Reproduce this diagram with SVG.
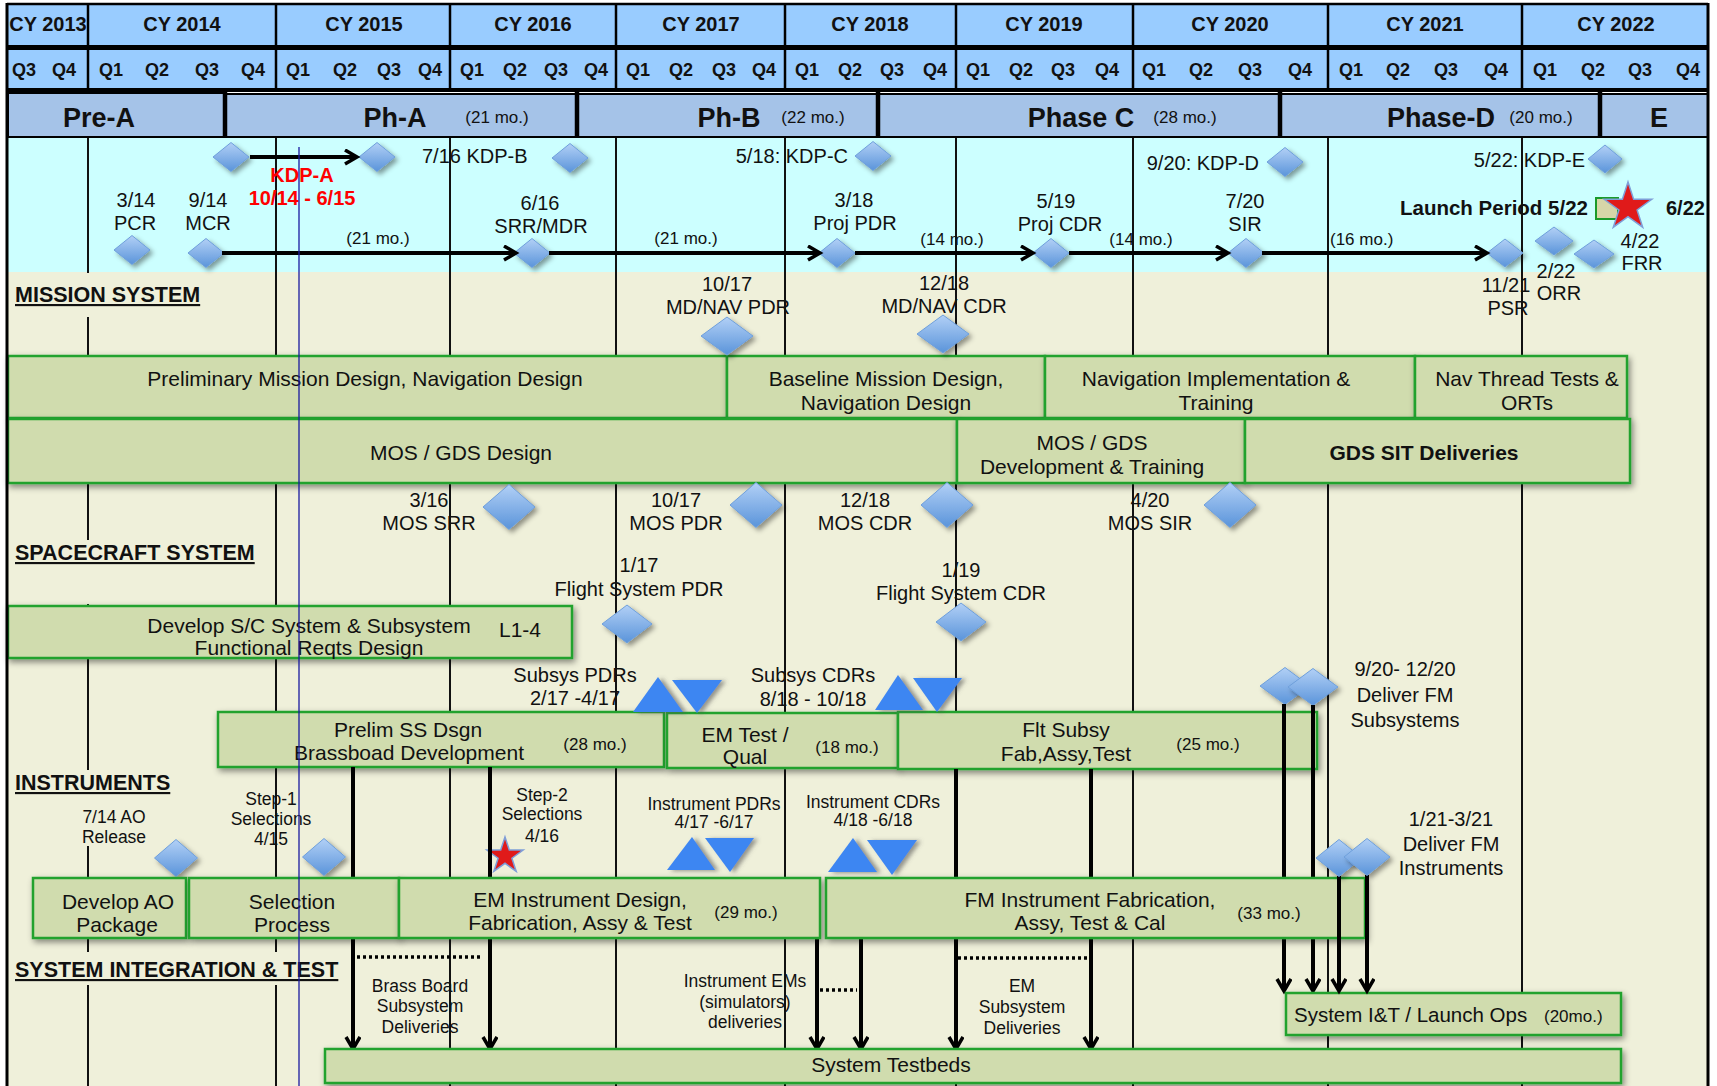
<svg xmlns="http://www.w3.org/2000/svg" width="1717" height="1086" viewBox="0 0 1717 1086">
<defs>
<style>
text{font-family:"Liberation Sans",Arial,sans-serif;fill:#111}
.hdr{font-size:20px;font-weight:bold;text-anchor:middle}
.q{font-size:18px;font-weight:bold;text-anchor:middle}
.ph{font-size:27px;font-weight:bold;text-anchor:middle}
.phm{font-size:17px;text-anchor:middle}
.l{font-size:20px;text-anchor:middle}
.le{font-size:20px;text-anchor:end}
.ls{font-size:20px;text-anchor:start}
.mo{font-size:17px;text-anchor:middle}
.sm{font-size:17.5px;text-anchor:middle}
.bt{font-size:21px;text-anchor:middle}
.bb{font-size:21px;font-weight:bold;text-anchor:middle}
.red{font-size:20px;font-weight:bold;text-anchor:middle;fill:#FF0000}
.sec{font-size:21.5px;font-weight:bold;text-decoration:underline}
.box{fill:#D0DCAE;stroke:#22A22F;stroke-width:2.5;filter:url(#sh)}
.pbox{fill:#A5C3E8;stroke:#000;stroke-width:2}
.dia{fill:url(#dg);stroke:#6E9FDB;stroke-width:1;filter:url(#dsh)}
.tri{fill:#3E86F2;filter:url(#tsh)}
.grid{stroke:#111;stroke-width:2}
.arr{stroke:#000;stroke-width:4;fill:none;marker-end:url(#ah)}
.ln{stroke:#000;stroke-width:4;fill:none}
.dot{stroke:#000;stroke-width:3.5;stroke-dasharray:3 3;fill:none}
</style>
<linearGradient id="dg" x1="0" y1="0" x2="0" y2="1"><stop offset="0" stop-color="#B2D0F6"/><stop offset="1" stop-color="#5A94DA"/></linearGradient>
<filter id="sh" x="-5%" y="-20%" width="110%" height="150%"><feDropShadow dx="2" dy="3" stdDeviation="3" flood-color="#000" flood-opacity="0.45"/></filter>
<filter id="dsh" x="-30%" y="-30%" width="170%" height="170%"><feDropShadow dx="3" dy="3" stdDeviation="2.5" flood-color="#000" flood-opacity="0.4"/></filter>
<filter id="tsh" x="-30%" y="-30%" width="170%" height="170%"><feDropShadow dx="4" dy="1" stdDeviation="2" flood-color="#555" flood-opacity="0.6"/></filter>
<marker id="ah" markerUnits="userSpaceOnUse" markerWidth="20" markerHeight="20" refX="14" refY="8" orient="auto"><path d="M2,1 L14,8 L2,15" fill="none" stroke="#000" stroke-width="3.5"/></marker>
</defs>

<rect x="0" y="0" width="1717" height="1086" fill="#fff"/>
<rect x="7" y="137" width="1701" height="135" fill="#CCFFFF"/>
<rect x="7" y="272" width="1701" height="814" fill="#EFF0DA"/>

<g id="gridlines" class="grid">
<line x1="88" y1="137" x2="88" y2="1086"/>
<line x1="276" y1="137" x2="276" y2="1086"/>
<line x1="450" y1="137" x2="450" y2="1086"/>
<line x1="616" y1="137" x2="616" y2="1086"/>
<line x1="785" y1="137" x2="785" y2="1086"/>
<line x1="956" y1="137" x2="956" y2="1086"/>
<line x1="1133" y1="137" x2="1133" y2="1086"/>
<line x1="1328" y1="137" x2="1328" y2="1086"/>
<line x1="1522" y1="137" x2="1522" y2="1086"/>
</g>

<g id="section-headings">
<rect x="10" y="273" width="196" height="44" fill="#EFF0DA"/>
<rect x="10" y="540" width="252" height="64" fill="#EFF0DA"/>
<rect x="10" y="770" width="166" height="76" fill="#EFF0DA"/>
<rect x="10" y="952" width="340" height="33" fill="#EFF0DA"/>
<text class="sec" x="15" y="302">MISSION SYSTEM</text>
<text class="sec" x="15" y="560">SPACECRAFT SYSTEM</text>
<text class="sec" x="15" y="790">INSTRUMENTS</text>
<text class="sec" x="15" y="977">SYSTEM INTEGRATION &amp; TEST</text>
</g>

<g id="header">
<rect x="7" y="4" width="1701" height="41" fill="#99CCFF"/>
<rect x="7" y="45" width="1701" height="5" fill="#000"/>
<rect x="7" y="50" width="1701" height="38" fill="#99CCFF"/>
<rect x="7" y="88" width="1701" height="4" fill="#000"/>
<g stroke="#000" stroke-width="2.5">
<line x1="88" y1="4" x2="88" y2="92"/><line x1="276" y1="4" x2="276" y2="92"/><line x1="450" y1="4" x2="450" y2="92"/><line x1="616" y1="4" x2="616" y2="92"/><line x1="785" y1="4" x2="785" y2="92"/><line x1="956" y1="4" x2="956" y2="92"/><line x1="1133" y1="4" x2="1133" y2="92"/><line x1="1328" y1="4" x2="1328" y2="92"/><line x1="1522" y1="4" x2="1522" y2="92"/>
<line x1="7" y1="4" x2="1708" y2="4"/>
</g>
<text class="hdr" x="48" y="31">CY 2013</text>
<text class="hdr" x="182" y="31">CY 2014</text>
<text class="hdr" x="364" y="31">CY 2015</text>
<text class="hdr" x="533" y="31">CY 2016</text>
<text class="hdr" x="701" y="31">CY 2017</text>
<text class="hdr" x="870" y="31">CY 2018</text>
<text class="hdr" x="1044" y="31">CY 2019</text>
<text class="hdr" x="1230" y="31">CY 2020</text>
<text class="hdr" x="1425" y="31">CY 2021</text>
<text class="hdr" x="1616" y="31">CY 2022</text>
<g class="q">
<text x="24" y="76">Q3</text><text x="64" y="76">Q4</text>
<text x="111" y="76">Q1</text><text x="157" y="76">Q2</text><text x="207" y="76">Q3</text><text x="253" y="76">Q4</text>
<text x="298" y="76">Q1</text><text x="345" y="76">Q2</text><text x="389" y="76">Q3</text><text x="430" y="76">Q4</text>
<text x="472" y="76">Q1</text><text x="515" y="76">Q2</text><text x="556" y="76">Q3</text><text x="596" y="76">Q4</text>
<text x="638" y="76">Q1</text><text x="681" y="76">Q2</text><text x="724" y="76">Q3</text><text x="764" y="76">Q4</text>
<text x="807" y="76">Q1</text><text x="850" y="76">Q2</text><text x="892" y="76">Q3</text><text x="935" y="76">Q4</text>
<text x="978" y="76">Q1</text><text x="1021" y="76">Q2</text><text x="1063" y="76">Q3</text><text x="1107" y="76">Q4</text>
<text x="1154" y="76">Q1</text><text x="1201" y="76">Q2</text><text x="1250" y="76">Q3</text><text x="1300" y="76">Q4</text>
<text x="1351" y="76">Q1</text><text x="1398" y="76">Q2</text><text x="1446" y="76">Q3</text><text x="1496" y="76">Q4</text>
<text x="1545" y="76">Q1</text><text x="1593" y="76">Q2</text><text x="1640" y="76">Q3</text><text x="1688" y="76">Q4</text>
</g>
<g id="phases">
<rect class="pbox" x="8" y="93" width="217" height="44"/>
<rect class="pbox" x="225" y="94" width="352" height="43"/>
<rect class="pbox" x="577" y="94" width="301" height="43"/>
<rect class="pbox" x="878" y="94" width="402" height="43"/>
<rect class="pbox" x="1280" y="94" width="320" height="43"/>
<rect class="pbox" x="1600" y="94" width="108" height="43"/>
<g stroke="#000" stroke-width="4.5">
<line x1="225" y1="92" x2="225" y2="138"/><line x1="577" y1="92" x2="577" y2="138"/><line x1="878" y1="92" x2="878" y2="138"/><line x1="1280" y1="92" x2="1280" y2="138"/><line x1="1600" y1="92" x2="1600" y2="138"/>
</g>
<line x1="7" y1="137" x2="1708" y2="137" stroke="#000" stroke-width="2"/>
<text class="ph" x="99" y="127">Pre-A</text>
<text class="ph" x="395" y="127">Ph-A</text><text class="phm" x="497" y="123">(21 mo.)</text>
<text class="ph" x="729" y="127">Ph-B</text><text class="phm" x="813" y="123">(22 mo.)</text>
<text class="ph" x="1081" y="127">Phase C</text><text class="phm" x="1185" y="123">(28 mo.)</text>
<text class="ph" x="1441" y="127">Phase-D</text><text class="phm" x="1541" y="123">(20 mo.)</text>
<text class="ph" x="1659" y="127">E</text>
</g>
</g>

<g id="boxes">
<g id="n-prelim-mission"><rect class="box" x="8" y="356" width="719" height="62"/><text class="bt" x="365" y="386">Preliminary Mission Design, Navigation Design</text></g>
<g id="n-baseline-mission"><rect class="box" x="727" y="356" width="318" height="62"/><text class="bt" x="886" y="386">Baseline Mission Design,</text><text class="bt" x="886" y="410">Navigation Design</text></g>
<g id="n-nav-impl"><rect class="box" x="1045" y="356" width="370" height="62"/><text class="bt" x="1216" y="386">Navigation Implementation &amp;</text><text class="bt" x="1216" y="410">Training</text></g>
<g id="n-nav-thread"><rect class="box" x="1415" y="356" width="212" height="62"/><text class="bt" x="1527" y="386">Nav Thread Tests &amp;</text><text class="bt" x="1527" y="410">ORTs</text></g>
<g id="n-mos-design"><rect class="box" x="8" y="419" width="949" height="64"/><text class="bt" x="461" y="460">MOS / GDS Design</text></g>
<g id="n-mos-dev"><rect class="box" x="957" y="419" width="288" height="64"/><text class="bt" x="1092" y="450">MOS / GDS</text><text class="bt" x="1092" y="474">Development &amp; Training</text></g>
<g id="n-gds-sit"><rect class="box" x="1245" y="419" width="385" height="64"/><text class="bb" x="1424" y="460">GDS SIT Deliveries</text></g>
<g id="n-sc-reqts"><rect class="box" x="8" y="606" width="564" height="52"/><text class="bt" x="309" y="633">Develop S/C System &amp; Subsystem</text><text class="bt" x="309" y="655">Functional Reqts Design</text><text class="bt" x="520" y="637">L1-4</text></g>
<g id="n-prelim-ss"><rect class="box" x="218" y="712" width="446" height="55"/><text class="bt" x="408" y="737">Prelim SS Dsgn</text><text class="bt" x="409" y="760">Brassboad Development</text><text class="mo" x="595" y="750">(28 mo.)</text></g>
<g id="n-em-test"><rect class="box" x="667" y="713" width="231" height="55"/><text class="bt" x="745" y="742">EM Test /</text><text class="bt" x="745" y="764">Qual</text><text class="mo" x="847" y="753">(18 mo.)</text></g>
<g id="n-flt-subsy"><rect class="box" x="898" y="712" width="419" height="57"/><text class="bt" x="1066" y="737">Flt Subsy</text><text class="bt" x="1066" y="761">Fab,Assy,Test</text><text class="mo" x="1208" y="750">(25 mo.)</text></g>
</g>

<g id="milestones">
<g id="m-kdpa-start"><polygon class="dia" points="213,157 231,142.5 249,157 231,171.5"/></g>
<g id="m-kdpa-end"><polygon class="dia" points="359,157 377,142.5 395,157 377,171.5"/></g>
<g id="m-kdpb"><polygon class="dia" points="552,158 570,143.5 588,158 570,172.5"/><text class="ls" x="422" y="163">7/16 KDP-B</text></g>
<g id="m-kdpc"><polygon class="dia" points="855,156 873,141.5 891,156 873,170.5"/><text class="le" x="848" y="163">5/18: KDP-C</text></g>
<g id="m-kdpd"><polygon class="dia" points="1267,162 1285,147.5 1303,162 1285,176.5"/><text class="le" x="1259" y="170">9/20: KDP-D</text></g>
<g id="m-kdpe"><polygon class="dia" points="1588,159 1605,145 1622,159 1605,173"/><text class="le" x="1585" y="167">5/22: KDP-E</text></g>
<g id="m-kdpa-label"><text class="red" x="302" y="182">KDP-A</text><text class="red" x="302" y="205">10/14 - 6/15</text></g>
<g id="m-pcr"><polygon class="dia" points="114,250 132,235.5 150,250 132,264.5"/><text class="l" x="136" y="207">3/14</text><text class="l" x="135" y="230">PCR</text></g>
<g id="m-mcr"><polygon class="dia" points="188,253 206,238.5 224,253 206,267.5"/><text class="l" x="208" y="207">9/14</text><text class="l" x="208" y="230">MCR</text></g>
<g id="m-srr"><polygon class="dia" points="514,253 532,238.5 550,253 532,267.5"/><text class="l" x="540" y="210">6/16</text><text class="l" x="541" y="233">SRR/MDR</text></g>
<g id="m-ppdr"><polygon class="dia" points="819,253 837,238.5 855,253 837,267.5"/><text class="l" x="854" y="207">3/18</text><text class="l" x="855" y="230">Proj PDR</text></g>
<g id="m-pcdr"><polygon class="dia" points="1033,253 1051,238.5 1069,253 1051,267.5"/><text class="l" x="1056" y="208">5/19</text><text class="l" x="1060" y="231">Proj CDR</text></g>
<g id="m-sir"><polygon class="dia" points="1228,253 1246,238.5 1264,253 1246,267.5"/><text class="l" x="1245" y="208">7/20</text><text class="l" x="1245" y="231">SIR</text></g>
<g id="m-psr"><polygon class="dia" points="1487,253 1505,239 1523,253 1505,267"/><text class="l" x="1506" y="292">11/21</text><text class="l" x="1508" y="315">PSR</text></g>
<g id="m-orr"><polygon class="dia" points="1535,241 1554,227 1573,241 1554,255"/><text class="l" x="1556" y="278">2/22</text><text class="l" x="1559" y="300">ORR</text></g>
<g id="m-frr"><polygon class="dia" points="1574,254 1594,240 1614,254 1594,268"/><text class="l" x="1640" y="248">4/22</text><text class="l" x="1642" y="270">FRR</text></g>
<g id="m-launch"><text x="1400" y="215" style="font-size:20.5px;font-weight:bold">Launch Period 5/22</text><rect x="1596" y="198" width="22" height="21" fill="#D6D6A8" stroke="#1A9A2A" stroke-width="2"/><polygon points="1628,182 1633.6,199.3 1651.8,199.3 1637.1,210 1642.7,227.2 1628,216.6 1613.3,227.2 1618.9,210 1604.2,199.3 1622.4,199.3" fill="#E01A1A" stroke="#7E9ED8" stroke-width="1.5"/><text x="1666" y="215" style="font-size:20px;font-weight:bold">6/22</text></g>
<g id="m-mdnav-pdr"><polygon class="dia" points="701,336 727,317 753,336 727,355"/><text class="l" x="727" y="291">10/17</text><text class="l" x="728" y="314">MD/NAV PDR</text></g>
<g id="m-mdnav-cdr"><polygon class="dia" points="917,334 943,315 969,334 943,353"/><text class="l" x="944" y="290">12/18</text><text class="l" x="944" y="313">MD/NAV CDR</text></g>
<g id="m-mos-srr"><polygon class="dia" points="483,507 509,484.5 535,507 509,529.5"/><text class="l" x="429" y="507">3/16</text><text class="l" x="429" y="530">MOS SRR</text></g>
<g id="m-mos-pdr"><polygon class="dia" points="730,505 756,482.5 782,505 756,527.5"/><text class="l" x="676" y="507">10/17</text><text class="l" x="676" y="530">MOS PDR</text></g>
<g id="m-mos-cdr"><polygon class="dia" points="921,505 947,482.5 973,505 947,527.5"/><text class="l" x="865" y="507">12/18</text><text class="l" x="865" y="530">MOS CDR</text></g>
<g id="m-mos-sir"><polygon class="dia" points="1204,505 1230,482.5 1256,505 1230,527.5"/><text class="l" x="1150" y="507">4/20</text><text class="l" x="1150" y="530">MOS SIR</text></g>
<g id="m-fs-pdr"><polygon class="dia" points="602,624 627,605 652,624 627,643"/><text class="l" x="639" y="572">1/17</text><text class="l" x="639" y="596">Flight System PDR</text></g>
<g id="m-fs-cdr"><polygon class="dia" points="936,622 961,603 986,622 961,641"/><text class="l" x="961" y="577">1/19</text><text class="l" x="961" y="600">Flight System CDR</text></g>
<g id="m-subsys-pdr"><polygon class="tri" points="633,712 658,677 683,712"/><polygon class="tri" points="672,680 722,680 697,713"/><text class="l" x="575" y="682">Subsys PDRs</text><text class="l" x="575" y="705">2/17 -4/17</text></g>
<g id="m-subsys-cdr"><polygon class="tri" points="875,710 898,675 923,710"/><polygon class="tri" points="913,678 962,678 937,712"/><text class="l" x="813" y="682">Subsys CDRs</text><text class="l" x="813" y="706">8/18 - 10/18</text></g>
<g id="m-fm-subsys"><polygon class="dia" points="1260,686 1285,667.5 1310,686 1285,704.5"/><polygon class="dia" points="1288,687 1313,668.5 1338,687 1313,705.5"/><text class="l" x="1405" y="676">9/20- 12/20</text><text class="l" x="1405" y="702">Deliver FM</text><text class="l" x="1405" y="727">Subsystems</text></g>
<g id="m-ao"><polygon class="dia" points="154.5,858 176,839.5 197.5,858 176,876.5"/><text class="sm" x="114" y="823">7/14 AO</text><text class="sm" x="114" y="843">Release</text></g>
<g id="m-step1"><polygon class="dia" points="302.5,857 324,838.5 345.5,857 324,875.5"/><text class="sm" x="271" y="805">Step-1</text><text class="sm" x="271" y="825">Selections</text><text class="sm" x="271" y="845">4/15</text></g>
<g id="m-step2"><polygon points="505,837 509.3,850.1 523.1,850.1 511.9,858.2 516.2,871.4 505,863.3 493.8,871.4 498.1,858.2 486.9,850.1 500.7,850.1" fill="#E01A1A" stroke="#7E9ED8" stroke-width="1.5"/><text class="sm" x="542" y="801">Step-2</text><text class="sm" x="542" y="820">Selections</text><text class="sm" x="542" y="842">4/16</text></g>
<g id="m-instr-pdr"><polygon class="tri" points="667,870 692,837 715,870"/><polygon class="tri" points="705,838 754,838 730,872"/><text class="sm" x="714" y="810">Instrument PDRs</text><text class="sm" x="714" y="828">4/17 -6/17</text></g>
<g id="m-instr-cdr"><polygon class="tri" points="828,872 853,838 877,872"/><polygon class="tri" points="867,840 917,840 892,875"/><text class="sm" x="873" y="808">Instrument CDRs</text><text class="sm" x="873" y="826">4/18 -6/18</text></g>
</g>

<g id="connectors">
<line class="arr" x1="250" y1="157" x2="357" y2="157"/>
<line class="arr" x1="222" y1="253" x2="516" y2="253"/>
<line class="arr" x1="549" y1="253" x2="820" y2="253"/>
<line class="arr" x1="855" y1="253" x2="1033" y2="253"/>
<line class="arr" x1="1069" y1="253" x2="1228" y2="253"/>
<line class="arr" x1="1262" y1="253" x2="1487" y2="253"/>
<line class="ln" x1="353" y1="767" x2="353" y2="878"/>
<line class="arr" x1="353" y1="938" x2="353" y2="1049"/>
<line class="ln" x1="490" y1="767" x2="490" y2="878"/>
<line class="arr" x1="490" y1="938" x2="490" y2="1049"/>
<line class="arr" x1="817" y1="938" x2="817" y2="1049"/>
<line class="arr" x1="861" y1="938" x2="861" y2="1049"/>
<line class="ln" x1="956" y1="769" x2="956" y2="878"/>
<line class="arr" x1="956" y1="938" x2="956" y2="1049"/>
<line class="ln" x1="1091" y1="769" x2="1091" y2="878"/>
<line class="arr" x1="1091" y1="938" x2="1091" y2="1049"/>
<line class="ln" x1="1284" y1="704" x2="1284" y2="878"/>
<line class="arr" x1="1284" y1="938" x2="1284" y2="991"/>
<line class="ln" x1="1313" y1="705" x2="1313" y2="878"/>
<line class="arr" x1="1313" y1="938" x2="1313" y2="991"/>
<line class="dot" x1="357" y1="957" x2="483" y2="957"/>
<line class="dot" x1="820" y1="990" x2="857" y2="990"/>
<line class="dot" x1="958" y1="958" x2="1088" y2="958"/>
</g>

<g id="boxes-lower">
<g id="n-develop-ao"><rect class="box" x="33" y="878" width="153" height="60"/><text class="bt" x="118" y="909">Develop AO</text><text class="bt" x="117" y="932">Package</text></g>
<g id="n-selection"><rect class="box" x="189" y="878" width="210" height="60"/><text class="bt" x="292" y="909">Selection</text><text class="bt" x="292" y="932">Process</text></g>
<g id="n-em-instr"><rect class="box" x="399" y="878" width="421" height="60"/><text class="bt" x="580" y="907">EM Instrument Design,</text><text class="bt" x="580" y="930">Fabrication, Assy &amp; Test</text><text class="mo" x="746" y="918">(29 mo.)</text></g>
<g id="n-fm-instr"><rect class="box" x="826" y="878" width="539" height="60"/><text class="bt" x="1090" y="907">FM Instrument Fabrication,</text><text class="bt" x="1090" y="930">Assy, Test &amp; Cal</text><text class="mo" x="1269" y="919">(33 mo.)</text></g>
<g id="n-sit-launch"><rect class="box" x="1286" y="993" width="335" height="42"/><text x="1294" y="1022" style="font-size:20.5px">System I&amp;T / Launch Ops</text><text x="1544" y="1022" style="font-size:17px">(20mo.)</text></g>
<g id="n-testbeds"><rect class="box" x="325" y="1049" width="1296" height="34"/><text class="bt" x="891" y="1072">System Testbeds</text></g>
</g>

<g id="connectors-top">
<line class="arr" x1="1339" y1="876" x2="1339" y2="991"/>
<line class="arr" x1="1367" y1="875" x2="1367" y2="991"/>
</g>

<g id="m-fm-instr">
<polygon class="dia" points="1316,858 1339,839.5 1362,858 1339,876.5"/><polygon class="dia" points="1344,857 1367,838.5 1390,857 1367,875.5"/>
<text class="l" x="1451" y="826">1/21-3/21</text><text class="l" x="1451" y="851">Deliver FM</text><text class="l" x="1451" y="875">Instruments</text>
</g>

<g id="sit-labels">
<text class="sm" x="420" y="992">Brass Board</text><text class="sm" x="420" y="1012">Subsystem</text><text class="sm" x="420" y="1033">Deliveries</text>
<text class="sm" x="745" y="987">Instrument EMs</text><text class="sm" x="745" y="1008">(simulators)</text><text class="sm" x="745" y="1028">deliveries</text>
<text class="sm" x="1022" y="992">EM</text><text class="sm" x="1022" y="1013">Subsystem</text><text class="sm" x="1022" y="1034">Deliveries</text>
</g>

<g id="mo-labels">
<text class="mo" x="378" y="244">(21 mo.)</text>
<text class="mo" x="686" y="244">(21 mo.)</text>
<text class="mo" x="952" y="245">(14 mo.)</text>
<text class="mo" x="1141" y="245">(14 mo.)</text>
<text x="1330" y="245" style="font-size:17px">(16 mo.)</text>
</g>

<line id="today-line" x1="299" y1="147" x2="299" y2="1086" stroke="#1A1AA0" stroke-width="1.3"/>

<g id="frame" stroke="#000" stroke-width="3">
<line x1="7" y1="3" x2="7" y2="1086"/>
<line x1="1708" y1="3" x2="1708" y2="1086"/>
</g>
</svg>
